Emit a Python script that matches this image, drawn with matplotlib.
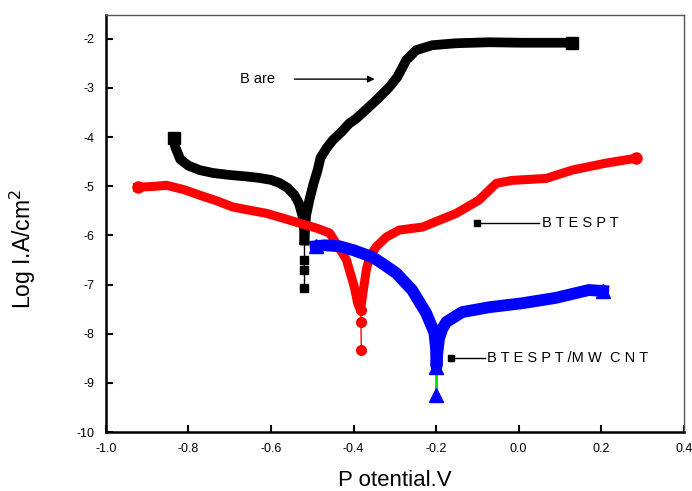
import matplotlib.pyplot as plt
import numpy as np

# Bare (black squares)
bare_v = [-0.836, -0.832, -0.82, -0.80, -0.773, -0.74, -0.70, -0.66, -0.628, -0.60,
          -0.58, -0.56, -0.543, -0.532, -0.524, -0.520, -0.519]
bare_i = [-4.02, -4.20, -4.45, -4.58, -4.67, -4.73, -4.77, -4.80, -4.83, -4.87,
          -4.93, -5.03, -5.18, -5.35, -5.59, -5.85, -6.10]
bare_tail_v = [-0.519, -0.519, -0.519, -0.519]
bare_tail_i = [-6.10, -6.50, -6.70, -7.07]
bare_up_v = [-0.519, -0.515, -0.507, -0.497, -0.487, -0.48, -0.465, -0.45, -0.43, -0.41,
             -0.393, -0.345, -0.313, -0.294, -0.272, -0.248, -0.209, -0.151, -0.071,
             0.008, 0.129]
bare_up_i = [-6.10, -5.60, -5.28, -4.95, -4.67, -4.42, -4.22, -4.06, -3.90, -3.72,
             -3.62, -3.25, -2.98, -2.78, -2.43, -2.23, -2.13, -2.09, -2.07,
             -2.08, -2.08]

# BTESPT (red circles)
red_v = [-0.923, -0.88, -0.853, -0.81, -0.773, -0.73, -0.693, -0.65, -0.611, -0.57,
         -0.531, -0.49, -0.458, -0.427, -0.417, -0.398, -0.39, -0.383, -0.376, -0.369,
         -0.361, -0.345, -0.32, -0.289, -0.233, -0.151, -0.096, -0.054, -0.016,
         0.067, 0.13, 0.211, 0.284]
red_i = [-5.02, -5.00, -4.98, -5.07, -5.18, -5.30, -5.42, -5.49, -5.55, -5.65,
         -5.75, -5.85, -5.95, -6.36, -6.50, -7.05, -7.38, -7.52, -7.10, -6.70,
         -6.44, -6.23, -6.03, -5.89, -5.83, -5.55, -5.28, -4.94, -4.88,
         -4.84, -4.67, -4.53, -4.43]
red_tail_v = [-0.383, -0.382, -0.381]
red_tail_i = [-7.52, -7.76, -8.33]

# BTESPT/MWCNT (blue triangles)
blue_v = [-0.492, -0.47, -0.434, -0.40, -0.354, -0.325, -0.296, -0.258, -0.224, -0.204,
          -0.200, -0.199, -0.197, -0.193, -0.185, -0.175, -0.137, -0.071, 0.008,
          0.09, 0.17, 0.205]
blue_i = [-6.22, -6.20, -6.22, -6.30, -6.44, -6.60, -6.77, -7.11, -7.58, -7.98,
          -8.30, -8.67, -8.40, -8.10, -7.90, -7.76, -7.56, -7.46, -7.38,
          -7.27, -7.11, -7.13]
blue_tail_v = [-0.199, -0.199, -0.199]
blue_tail_i = [-8.67, -8.95, -9.24]

plt.rcParams['font.family'] = ['Liberation Sans', 'DejaVu Sans']
plt.rcParams['axes.unicode_minus'] = False

fig = plt.figure(figsize=(6.92, 4.91), dpi=100)
ax = fig.add_axes([0.153, 0.120, 0.835, 0.849])

# black
ax.plot(bare_v, bare_i, color='black', lw=7, marker='s', ms=8, markevery=[0],
        solid_joinstyle='round')
ax.plot(bare_up_v, bare_up_i, color='black', lw=7, marker='s', ms=8, markevery=[-1],
        solid_joinstyle='round')
ax.plot(bare_tail_v, bare_tail_i, color='black', lw=1, marker='s', ms=6)

# red
ax.plot(red_v, red_i, color='red', lw=6.5, marker='o', ms=8, markevery=[0, -1],
        solid_joinstyle='round')
ax.plot(red_tail_v, red_tail_i, color='red', lw=1, marker='o', ms=7)

# blue
ax.plot(blue_tail_v, blue_tail_i, color='#00e000', lw=2, zorder=1)
ax.plot(blue_v, blue_i, color='blue', lw=8.5, marker='^', ms=10, markevery=[0, -1],
        solid_joinstyle='round')
ax.plot(blue_tail_v[0], blue_tail_i[0], color='blue', marker='^', ms=10, ls='none')
ax.plot(blue_tail_v[-1], blue_tail_i[-1], color='blue', marker='^', ms=10, ls='none')

# annotations
ax.annotate('', xy=(-0.342, -2.82), xytext=(-0.55, -2.82),
            arrowprops=dict(arrowstyle='-|>', color='black', lw=1, mutation_scale=10))
ax.text(-0.676, -2.82, 'B are', fontsize=10.5, va='center', ha='left')

ax.plot([0.05, -0.10], [-5.75, -5.75], color='black', lw=1, marker='s', ms=4, markevery=[1])
ax.text(0.057, -5.75, 'B T E S P T', fontsize=10.5, va='center', ha='left')

ax.plot([-0.081, -0.163], [-8.49, -8.49], color='black', lw=1, marker='s', ms=4, markevery=[1])
ax.text(-0.076, -8.49, 'B T E S P T /M W  C N T', fontsize=10.5, va='center', ha='left')

ax.set_xlim(-1.0, 0.4)
ax.set_ylim(-10, -1.52)
ax.set_xticks(np.arange(-1.0, 0.41, 0.2))
ax.set_xticklabels(['-1.0', '-0.8', '-0.6', '-0.4', '-0.2', '0.0', '0.2', '0.4'])
ax.set_yticks(range(-10, -1))
ax.tick_params(direction='in', length=5, width=1.5, labelsize=9, top=False, right=False, pad=8)

for s in ['left', 'bottom']:
    ax.spines[s].set_linewidth(1.8)
for s in ['top', 'right']:
    ax.spines[s].set_linewidth(1.0)
    ax.spines[s].set_color('#555555')

ax.set_xlabel('P otential.V', fontsize=16, labelpad=11)
ax.set_ylabel('Log I.A/cm$^2$', fontsize=16.5)
ax.yaxis.set_label_coords(-0.118, 0.44)

fig.savefig('out.png', dpi=100)
